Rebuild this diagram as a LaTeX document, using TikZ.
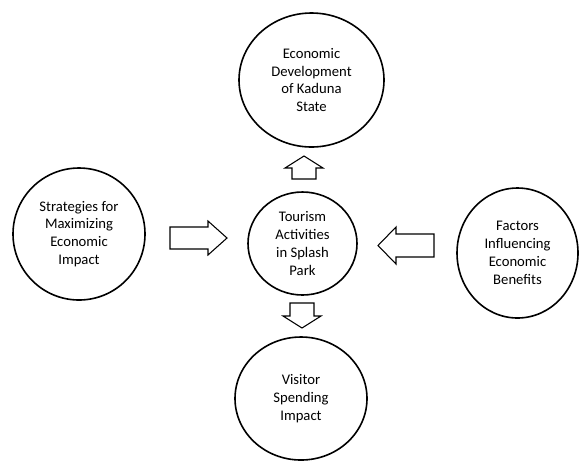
\documentclass[tikz,border=0pt]{standalone}
\usepackage{fontspec}
\setmainfont{Carlito}
\usetikzlibrary{shapes.geometric}

\begin{document}
\begin{tikzpicture}[x=0.75pt,y=-0.75pt,
  topic/.style={ellipse,draw,line width=1.2pt,inner sep=0pt,align=center,
    font=\fontsize{11}{13.4}\selectfont},
  blockarrow/.style={draw,line width=0.8pt,line join=miter}]
\useasboundingbox (0,0) rectangle (580,462);

% Topics
\node[topic,minimum width=108.75pt,minimum height=100.5pt] (econ) at (311.5,80)
  {Economic\\Development\\of Kaduna\\State};
\node[topic,minimum width=99pt,minimum height=99pt] (strat) at (79,234)
  {Strategies for\\Maximizing\\Economic\\Impact};
\node[topic,minimum width=81.75pt,minimum height=77.25pt] (tour) at (302.5,243.5)
  {Tourism\\Activities\\in Splash\\Park};
\node[topic,minimum width=90.75pt,minimum height=97.5pt] (fact) at (517.5,253)
  {Factors\\Influencing\\Economic\\Benefits};
\node[topic,minimum width=99pt,minimum height=92.25pt] (visit) at (301,398.5)
  {Visitor\\Spending\\Impact};

% Block arrows
\draw[blockarrow] (292,179) -- (292,168) -- (285,168) -- (304,156)
  -- (323,168) -- (316,168) -- (316,179) -- cycle;
\draw[blockarrow] (290,303) -- (290,316) -- (283,316) -- (302,328)
  -- (321,316) -- (314,316) -- (314,303) -- cycle;
\draw[blockarrow] (170,227) -- (208,227) -- (208,221) -- (227,238)
  -- (208,255) -- (208,249) -- (170,249) -- cycle;
\draw[blockarrow] (434,234) -- (396,234) -- (396,227) -- (378,245.5)
  -- (396,264) -- (396,257) -- (434,257) -- cycle;
\end{tikzpicture}
\end{document}
